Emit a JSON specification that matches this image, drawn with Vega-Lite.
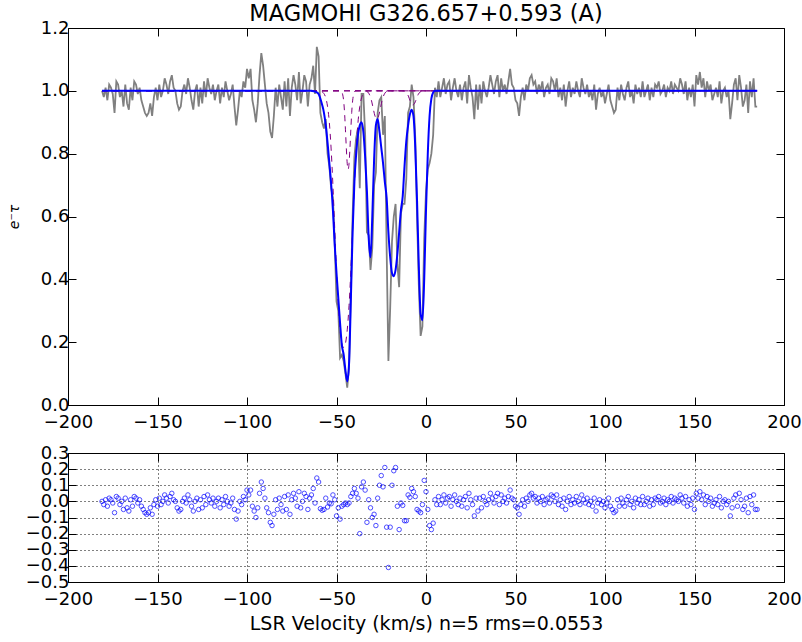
{
"$schema": "https://vega.github.io/schema/vega-lite/v6.json",
"autosize": {"type": "pad"},
"padding": {"left": 6, "top": 2, "right": 10, "bottom": 5},
"bounds": "flush",
"spacing": 48,
"background": "white",
"config": {
  "view": {"stroke": "black", "strokeWidth": 1},
  "font": "DejaVu Sans",
  "axis": {"labelFont": "DejaVu Sans", "labelFontSize": 18, "labelColor": "black", "domainColor": "black", "tickColor": "black", "tickSize": -8, "labelFlush": false, "labelOverlap": false, "titleFont": "DejaVu Sans", "titleFontWeight": "normal", "titleColor": "black"}
},
"datasets": {
"spec": [
{"v":-181,"s":1.00,"r":0.00},{"v":-180,"s":0.98,"r":-0.02},{"v":-179,"s":1.01,"r":0.01},{"v":-178,"s":0.97,"r":-0.03},{"v":-177,"s":1.02,"r":0.02},{"v":-176,"s":1.01,"r":0.01},{"v":-175,"s":0.99,"r":-0.01},{"v":-174,"s":0.93,"r":-0.07},{"v":-173,"s":1.03,"r":0.03},{"v":-172,"s":1.02,"r":0.02},
{"v":-171,"s":0.98,"r":-0.02},{"v":-170,"s":1.00,"r":0.00},{"v":-169,"s":0.95,"r":-0.05},{"v":-168,"s":1.02,"r":0.02},{"v":-167,"s":0.96,"r":-0.04},{"v":-166,"s":0.94,"r":-0.06},{"v":-165,"s":1.01,"r":0.01},{"v":-164,"s":0.97,"r":-0.03},{"v":-163,"s":1.03,"r":0.03},{"v":-162,"s":1.02,"r":0.02},
{"v":-161,"s":0.99,"r":-0.01},{"v":-160,"s":1.01,"r":0.01},{"v":-159,"s":0.97,"r":-0.03},{"v":-158,"s":0.95,"r":-0.05},{"v":-157,"s":0.93,"r":-0.07},{"v":-156,"s":0.92,"r":-0.08},{"v":-155,"s":0.93,"r":-0.07},{"v":-154,"s":0.96,"r":-0.04},{"v":-153,"s":0.92,"r":-0.08},{"v":-152,"s":0.98,"r":-0.02},
{"v":-151,"s":1.01,"r":0.01},{"v":-150,"s":0.97,"r":-0.03},{"v":-149,"s":1.02,"r":0.02},{"v":-148,"s":0.98,"r":-0.02},{"v":-147,"s":1.00,"r":0.00},{"v":-146,"s":1.04,"r":0.04},{"v":-145,"s":1.02,"r":0.02},{"v":-144,"s":0.99,"r":-0.01},{"v":-143,"s":1.03,"r":0.03},{"v":-142,"s":1.05,"r":0.05},
{"v":-141,"s":1.01,"r":0.01},{"v":-140,"s":1.00,"r":0.00},{"v":-139,"s":0.96,"r":-0.04},{"v":-138,"s":0.94,"r":-0.06},{"v":-137,"s":0.95,"r":-0.05},{"v":-136,"s":1.00,"r":0.00},{"v":-135,"s":1.02,"r":0.02},{"v":-134,"s":0.99,"r":-0.01},{"v":-133,"s":1.04,"r":0.04},{"v":-132,"s":1.01,"r":0.01},
{"v":-131,"s":0.97,"r":-0.03},{"v":-130,"s":0.94,"r":-0.06},{"v":-129,"s":1.00,"r":0.00},{"v":-128,"s":1.02,"r":0.02},{"v":-127,"s":0.95,"r":-0.05},{"v":-126,"s":1.01,"r":0.01},{"v":-125,"s":0.96,"r":-0.04},{"v":-124,"s":1.03,"r":0.03},{"v":-123,"s":0.98,"r":-0.02},{"v":-122,"s":1.04,"r":0.04},
{"v":-121,"s":1.01,"r":0.01},{"v":-120,"s":0.99,"r":-0.01},{"v":-119,"s":1.02,"r":0.02},{"v":-118,"s":0.97,"r":-0.03},{"v":-117,"s":1.00,"r":0.00},{"v":-116,"s":1.02,"r":0.02},{"v":-115,"s":0.96,"r":-0.04},{"v":-114,"s":1.01,"r":0.01},{"v":-113,"s":0.98,"r":-0.02},{"v":-112,"s":1.03,"r":0.03},
{"v":-111,"s":1.00,"r":0.00},{"v":-110,"s":0.97,"r":-0.03},{"v":-109,"s":0.99,"r":-0.01},{"v":-108,"s":1.02,"r":0.02},{"v":-107,"s":0.95,"r":-0.05},{"v":-106,"s":0.89,"r":-0.11},{"v":-105,"s":0.94,"r":-0.06},{"v":-104,"s":1.00,"r":0.00},{"v":-103,"s":0.98,"r":-0.02},{"v":-102,"s":1.03,"r":0.03},
{"v":-101,"s":1.01,"r":0.01},{"v":-100,"s":1.07,"r":0.07},{"v":-99,"s":1.04,"r":0.04},{"v":-98,"s":1.07,"r":0.07},{"v":-97,"s":0.97,"r":-0.03},{"v":-96,"s":0.94,"r":-0.06},{"v":-95,"s":0.90,"r":-0.10},{"v":-94,"s":0.96,"r":-0.04},{"v":-93,"s":1.05,"r":0.05},{"v":-92,"s":1.12,"r":0.12},
{"v":-91,"s":1.08,"r":0.08},{"v":-90,"s":1.02,"r":0.02},{"v":-89,"s":0.96,"r":-0.04},{"v":-88,"s":0.93,"r":-0.07},{"v":-87,"s":0.87,"r":-0.13},{"v":-86,"s":0.85,"r":-0.15},{"v":-85,"s":0.92,"r":-0.08},{"v":-84,"s":1.01,"r":0.01},{"v":-83,"s":0.95,"r":-0.05},{"v":-82,"s":1.02,"r":0.02},
{"v":-81,"s":0.98,"r":-0.02},{"v":-80,"s":0.94,"r":-0.06},{"v":-79,"s":1.03,"r":0.03},{"v":-78,"s":0.95,"r":-0.05},{"v":-77,"s":1.04,"r":0.04},{"v":-76,"s":0.92,"r":-0.08},{"v":-75,"s":1.01,"r":0.01},{"v":-74,"s":1.05,"r":0.05},{"v":-73,"s":1.02,"r":0.02},{"v":-72,"s":0.97,"r":-0.03},
{"v":-71,"s":1.06,"r":0.06},{"v":-70,"s":0.96,"r":-0.04},{"v":-69,"s":1.00,"r":0.00},{"v":-68,"s":1.05,"r":0.05},{"v":-67,"s":1.03,"r":0.03},{"v":-66,"s":0.95,"r":-0.05},{"v":-65,"s":1.02,"r":0.02},
{"v":-64,"s":1.04,"r":0.04},{"v":-63,"s":1.08,"r":0.08},{"v":-62,"s":0.99,"r":-0.01},{"v":-61,"s":1.14,"r":0.145},{"v":-60,"s":1.11,"r":0.12},{"v":-59,"s":0.93,"r":-0.045},{"v":-58,"s":0.90,"r":-0.055},{"v":-57,"s":0.88,"r":-0.05},{"v":-56,"s":0.91,"r":0.02},{"v":-55,"s":0.80,"r":-0.035},
{"v":-54,"s":0.76,"r":-0.01},{"v":-53,"s":0.69,"r":-0.015},{"v":-52,"s":0.66,"r":0.04},{"v":-51,"s":0.52,"r":0.01},{"v":-50,"s":0.33,"r":-0.09},{"v":-49,"s":0.30,"r":-0.04},{"v":-48,"s":0.15,"r":-0.11},{"v":-47,"s":0.16,"r":-0.03},{"v":-46,"s":0.14,"r":-0.02},{"v":-45,"s":0.10,"r":-0.01},
{"v":-44,"s":0.055,"r":-0.02},{"v":-43,"s":0.12,"r":-0.01},{"v":-42,"s":0.36,"r":0.03},{"v":-41,"s":0.60,"r":0.05},{"v":-40,"s":0.79,"r":0.08},{"v":-39,"s":0.85,"r":0.05},{"v":-38,"s":0.88,"r":0.02},{"v":-37,"s":0.69,"r":-0.20},{"v":-36,"s":0.99,"r":0.09},{"v":-35,"s":0.99,"r":0.12},
{"v":-34,"s":0.86,"r":0.07},{"v":-33,"s":0.55,"r":-0.13},{"v":-32,"s":0.54,"r":0.01},{"v":-31,"s":0.43,"r":-0.04},{"v":-30,"s":0.50,"r":-0.10},{"v":-29,"s":0.70,"r":-0.08},{"v":-28,"s":0.74,"r":-0.15},{"v":-27,"s":0.93,"r":0.02},{"v":-26,"s":0.97,"r":0.10},{"v":-25,"s":0.98,"r":0.16},
{"v":-24,"s":0.86,"r":0.09},{"v":-23,"s":0.92,"r":0.21},{"v":-22,"s":0.50,"r":-0.16},{"v":-21,"s":0.14,"r":-0.41},{"v":-20,"s":0.31,"r":-0.16},{"v":-19,"s":0.52,"r":0.10},{"v":-18,"s":0.60,"r":0.19},{"v":-17,"s":0.64,"r":0.21},{"v":-16,"s":0.45,"r":-0.03},{"v":-15,"s":0.375,"r":-0.175},
{"v":-14,"s":0.61,"r":-0.01},{"v":-13,"s":0.64,"r":-0.025},{"v":-12,"s":0.64,"r":-0.12},{"v":-11,"s":0.72,"r":-0.12},{"v":-10,"s":0.93,"r":0.04},{"v":-9,"s":0.95,"r":0.025},{"v":-8,"s":1.02,"r":0.08},{"v":-7,"s":0.98,"r":0.06},{"v":-6,"s":0.85,"r":0.03},{"v":-5,"s":0.60,"r":-0.05},
{"v":-4,"s":0.38,"r":-0.06},{"v":-3,"s":0.22,"r":-0.07},{"v":-2,"s":0.25,"r":-0.02},{"v":-1,"s":0.53,"r":0.13},{"v":0,"s":0.68,"r":0.06},{"v":1,"s":0.75,"r":-0.05},{"v":2,"s":0.77,"r":-0.15},{"v":3,"s":0.80,"r":-0.175},{"v":4,"s":0.86,"r":-0.135},{"v":5,"s":1.01,"r":0.01},
{"v":6,"s":0.98,"r":-0.02},{"v":7,"s":1.03,"r":0.03},{"v":8,"s":0.98,"r":-0.02},{"v":9,"s":1.01,"r":0.01},{"v":10,"s":1.04,"r":0.04},{"v":11,"s":0.99,"r":-0.01},{"v":12,"s":1.02,"r":0.02},{"v":13,"s":1.03,"r":0.03},{"v":14,"s":0.97,"r":-0.03},{"v":15,"s":1.01,"r":0.01},
{"v":16,"s":1.04,"r":0.04},{"v":17,"s":1.00,"r":0.00},{"v":18,"s":0.98,"r":-0.02},{"v":19,"s":1.02,"r":0.02},{"v":20,"s":0.97,"r":-0.03},{"v":21,"s":1.01,"r":0.01},{"v":22,"s":1.03,"r":0.03},{"v":23,"s":0.96,"r":-0.04},{"v":24,"s":1.05,"r":0.05},{"v":25,"s":1.01,"r":0.01},
{"v":26,"s":0.98,"r":-0.02},{"v":27,"s":0.91,"r":-0.09},{"v":28,"s":1.02,"r":0.02},{"v":29,"s":0.94,"r":-0.06},{"v":30,"s":1.02,"r":0.02},{"v":31,"s":0.96,"r":-0.04},{"v":32,"s":1.03,"r":0.03},{"v":33,"s":1.00,"r":0.00},{"v":34,"s":0.98,"r":-0.02},{"v":35,"s":1.01,"r":0.01},
{"v":36,"s":1.05,"r":0.05},{"v":37,"s":1.02,"r":0.02},{"v":38,"s":0.99,"r":-0.01},{"v":39,"s":1.03,"r":0.03},{"v":40,"s":1.05,"r":0.05},{"v":41,"s":0.98,"r":-0.02},{"v":42,"s":1.04,"r":0.04},{"v":43,"s":1.00,"r":0.00},{"v":44,"s":1.02,"r":0.02},{"v":45,"s":0.99,"r":-0.01},
{"v":46,"s":1.03,"r":0.03},{"v":47,"s":1.07,"r":0.07},{"v":48,"s":1.02,"r":0.02},{"v":49,"s":1.01,"r":0.01},{"v":50,"s":0.97,"r":-0.03},{"v":51,"s":0.96,"r":-0.04},{"v":52,"s":0.92,"r":-0.08},{"v":53,"s":0.98,"r":-0.02},{"v":54,"s":1.01,"r":0.01},{"v":55,"s":0.97,"r":-0.03},
{"v":56,"s":1.02,"r":0.02},{"v":57,"s":1.00,"r":0.00},{"v":58,"s":1.04,"r":0.04},{"v":59,"s":1.05,"r":0.05},{"v":60,"s":1.02,"r":0.02},{"v":61,"s":1.03,"r":0.03},{"v":62,"s":0.99,"r":-0.01},{"v":63,"s":1.02,"r":0.02},{"v":64,"s":1.00,"r":0.00},{"v":65,"s":1.03,"r":0.03},
{"v":66,"s":0.98,"r":-0.02},{"v":67,"s":1.01,"r":0.01},{"v":68,"s":1.02,"r":0.02},{"v":69,"s":0.99,"r":-0.01},{"v":70,"s":1.04,"r":0.04},{"v":71,"s":1.03,"r":0.03},{"v":72,"s":1.00,"r":0.00},{"v":73,"s":1.04,"r":0.04},{"v":74,"s":0.98,"r":-0.02},{"v":75,"s":1.01,"r":0.01},
{"v":76,"s":0.97,"r":-0.03},{"v":77,"s":1.02,"r":0.02},{"v":78,"s":0.95,"r":-0.05},{"v":79,"s":1.00,"r":0.00},{"v":80,"s":1.03,"r":0.03},{"v":81,"s":0.98,"r":-0.02},{"v":82,"s":1.01,"r":0.01},{"v":83,"s":0.99,"r":-0.01},{"v":84,"s":1.03,"r":0.03},{"v":85,"s":1.00,"r":0.00},
{"v":86,"s":0.98,"r":-0.02},{"v":87,"s":1.04,"r":0.04},{"v":88,"s":1.01,"r":0.01},{"v":89,"s":0.99,"r":-0.01},{"v":90,"s":1.02,"r":0.02},{"v":91,"s":0.98,"r":-0.02},{"v":92,"s":1.00,"r":0.00},{"v":93,"s":0.97,"r":-0.03},{"v":94,"s":1.02,"r":0.02},{"v":95,"s":0.94,"r":-0.06},
{"v":96,"s":0.99,"r":-0.01},{"v":97,"s":1.01,"r":0.01},{"v":98,"s":0.98,"r":-0.02},{"v":99,"s":1.00,"r":0.00},{"v":100,"s":0.96,"r":-0.04},{"v":101,"s":0.99,"r":-0.01},{"v":102,"s":1.02,"r":0.02},{"v":103,"s":0.97,"r":-0.03},{"v":104,"s":0.95,"r":-0.05},{"v":105,"s":0.93,"r":-0.07},
{"v":106,"s":0.94,"r":-0.06},{"v":107,"s":1.01,"r":0.01},{"v":108,"s":0.97,"r":-0.03},{"v":109,"s":1.02,"r":0.02},{"v":110,"s":0.99,"r":-0.01},{"v":111,"s":0.97,"r":-0.03},{"v":112,"s":1.01,"r":0.01},{"v":113,"s":1.03,"r":0.03},{"v":114,"s":0.98,"r":-0.02},{"v":115,"s":1.00,"r":0.00},
{"v":116,"s":0.96,"r":-0.04},{"v":117,"s":1.02,"r":0.02},{"v":118,"s":0.99,"r":-0.01},{"v":119,"s":1.01,"r":0.01},{"v":120,"s":0.98,"r":-0.02},{"v":121,"s":1.03,"r":0.03},{"v":122,"s":0.98,"r":-0.02},{"v":123,"s":1.00,"r":0.00},{"v":124,"s":1.02,"r":0.02},{"v":125,"s":0.97,"r":-0.03},
{"v":126,"s":1.01,"r":0.01},{"v":127,"s":0.98,"r":-0.02},{"v":128,"s":1.02,"r":0.02},{"v":129,"s":1.01,"r":0.01},{"v":130,"s":1.03,"r":0.03},{"v":131,"s":0.99,"r":-0.01},{"v":132,"s":1.00,"r":0.00},{"v":133,"s":1.02,"r":0.02},{"v":134,"s":0.98,"r":-0.02},{"v":135,"s":1.01,"r":0.01},
{"v":136,"s":1.00,"r":0.00},{"v":137,"s":1.03,"r":0.03},{"v":138,"s":0.99,"r":-0.01},{"v":139,"s":1.02,"r":0.02},{"v":140,"s":1.01,"r":0.01},{"v":141,"s":1.00,"r":0.00},{"v":142,"s":1.04,"r":0.04},{"v":143,"s":1.02,"r":0.02},{"v":144,"s":0.99,"r":-0.01},{"v":145,"s":1.03,"r":0.03},
{"v":146,"s":0.97,"r":-0.03},{"v":147,"s":1.01,"r":0.01},{"v":148,"s":0.98,"r":-0.02},{"v":149,"s":1.02,"r":0.02},{"v":150,"s":0.95,"r":-0.05},{"v":151,"s":1.05,"r":0.05},{"v":152,"s":1.02,"r":0.02},{"v":153,"s":1.06,"r":0.06},{"v":154,"s":1.01,"r":0.01},{"v":155,"s":1.04,"r":0.04},
{"v":156,"s":0.98,"r":-0.02},{"v":157,"s":1.03,"r":0.03},{"v":158,"s":1.00,"r":0.00},{"v":159,"s":1.02,"r":0.02},{"v":160,"s":0.97,"r":-0.03},{"v":161,"s":0.99,"r":-0.01},{"v":162,"s":1.01,"r":0.01},{"v":163,"s":0.98,"r":-0.02},{"v":164,"s":1.03,"r":0.03},{"v":165,"s":0.96,"r":-0.04},
{"v":166,"s":1.00,"r":0.00},{"v":167,"s":1.01,"r":0.01},{"v":168,"s":0.98,"r":-0.02},{"v":169,"s":1.00,"r":0.00},{"v":170,"s":0.91,"r":-0.09},{"v":171,"s":0.96,"r":-0.04},{"v":172,"s":1.02,"r":0.02},{"v":173,"s":1.04,"r":0.04},{"v":174,"s":0.97,"r":-0.03},{"v":175,"s":1.05,"r":0.05},
{"v":176,"s":1.01,"r":0.01},{"v":177,"s":0.95,"r":-0.05},{"v":178,"s":0.97,"r":-0.03},{"v":179,"s":1.02,"r":0.02},{"v":180,"s":0.93,"r":-0.07},{"v":181,"s":1.03,"r":0.03},{"v":182,"s":0.98,"r":-0.02},{"v":183,"s":1.04,"r":0.04},{"v":184,"s":0.95,"r":-0.05},{"v":185,"s":0.95,"r":-0.05}
],
"model": [
{"v":-181,"m":1},{"v":-65,"m":1},{"v":-64,"m":1},{"v":-63,"m":0.999},{"v":-62,"m":0.998},{"v":-61,"m":0.995},{"v":-60,"m":0.99},{"v":-59,"m":0.975},{"v":-58,"m":0.955},{"v":-57,"m":0.93},
{"v":-56,"m":0.89},{"v":-55,"m":0.835},{"v":-54,"m":0.77},{"v":-53,"m":0.705},{"v":-52,"m":0.62},{"v":-51,"m":0.51},{"v":-50,"m":0.42},{"v":-49,"m":0.34},{"v":-48,"m":0.26},{"v":-47,"m":0.19},
{"v":-46,"m":0.16},{"v":-45,"m":0.11},{"v":-44,"m":0.075},{"v":-43,"m":0.13},{"v":-42,"m":0.33},{"v":-41,"m":0.55},{"v":-40,"m":0.71},{"v":-39,"m":0.80},{"v":-38,"m":0.86},{"v":-37,"m":0.89},
{"v":-36,"m":0.90},{"v":-35,"m":0.87},{"v":-34,"m":0.79},{"v":-33,"m":0.68},{"v":-32,"m":0.53},{"v":-31,"m":0.47},{"v":-30,"m":0.60},{"v":-29,"m":0.78},{"v":-28,"m":0.89},{"v":-27,"m":0.91},
{"v":-26,"m":0.87},{"v":-25,"m":0.82},{"v":-24,"m":0.77},{"v":-23,"m":0.71},{"v":-22,"m":0.66},{"v":-21,"m":0.55},{"v":-20,"m":0.47},{"v":-19,"m":0.42},{"v":-18,"m":0.41},{"v":-17,"m":0.43},
{"v":-16,"m":0.48},{"v":-15,"m":0.55},{"v":-14,"m":0.62},{"v":-13,"m":0.665},{"v":-12,"m":0.76},{"v":-11,"m":0.84},{"v":-10,"m":0.89},{"v":-9,"m":0.925},{"v":-8,"m":0.94},{"v":-7,"m":0.92},
{"v":-6,"m":0.82},{"v":-5,"m":0.65},{"v":-4,"m":0.44},{"v":-3,"m":0.29},{"v":-2,"m":0.27},{"v":-1,"m":0.40},{"v":0,"m":0.62},{"v":1,"m":0.80},{"v":2,"m":0.92},{"v":3,"m":0.975},
{"v":4,"m":0.995},{"v":5,"m":1},{"v":6,"m":1},{"v":185,"m":1}
],
"comp": [
{"c":"P1","v":-181,"y":1},{"c":"P1","v":-59,"y":1},{"c":"P1","v":-58,"y":0.997},{"c":"P1","v":-57,"y":0.991},{"c":"P1","v":-56,"y":0.978},{"c":"P1","v":-55,"y":0.950},{"c":"P1","v":-54,"y":0.899},{"c":"P1","v":-53,"y":0.815},{"c":"P1","v":-52,"y":0.699},{"c":"P1","v":-51,"y":0.562},
{"c":"P1","v":-50,"y":0.427},{"c":"P1","v":-49,"y":0.316},{"c":"P1","v":-48,"y":0.239},{"c":"P1","v":-47,"y":0.196},{"c":"P1","v":-46,"y":0.183},{"c":"P1","v":-45,"y":0.196},{"c":"P1","v":-44,"y":0.239},{"c":"P1","v":-43,"y":0.316},{"c":"P1","v":-42,"y":0.427},{"c":"P1","v":-41,"y":0.562},
{"c":"P1","v":-40,"y":0.699},{"c":"P1","v":-39,"y":0.815},{"c":"P1","v":-38,"y":0.899},{"c":"P1","v":-37,"y":0.950},{"c":"P1","v":-36,"y":0.978},{"c":"P1","v":-35,"y":0.991},{"c":"P1","v":-34,"y":0.997},{"c":"P1","v":-33,"y":1},{"c":"P1","v":185,"y":1},
{"c":"P2","v":-181,"y":1},{"c":"P2","v":-47.5,"y":1},{"c":"P2","v":-47,"y":0.996},{"c":"P2","v":-46.5,"y":0.987},{"c":"P2","v":-46,"y":0.968},{"c":"P2","v":-45.5,"y":0.931},{"c":"P2","v":-45,"y":0.876},{"c":"P2","v":-44.5,"y":0.816},{"c":"P2","v":-44,"y":0.768},{"c":"P2","v":-43.5,"y":0.75},
{"c":"P2","v":-43,"y":0.768},{"c":"P2","v":-42.5,"y":0.816},{"c":"P2","v":-42,"y":0.876},{"c":"P2","v":-41.5,"y":0.931},{"c":"P2","v":-41,"y":0.968},{"c":"P2","v":-40.5,"y":0.987},{"c":"P2","v":-40,"y":0.996},{"c":"P2","v":-39.5,"y":1},{"c":"P2","v":185,"y":1},
{"c":"P3","v":-181,"y":1},{"c":"P3","v":-33.5,"y":1},{"c":"P3","v":-32.5,"y":0.996},{"c":"P3","v":-31.5,"y":0.987},{"c":"P3","v":-30.5,"y":0.970},{"c":"P3","v":-29.5,"y":0.944},{"c":"P3","v":-28.5,"y":0.920},{"c":"P3","v":-27.5,"y":0.91},{"c":"P3","v":-26.5,"y":0.920},{"c":"P3","v":-25.5,"y":0.944},
{"c":"P3","v":-24.5,"y":0.970},{"c":"P3","v":-23.5,"y":0.987},{"c":"P3","v":-22.5,"y":0.996},{"c":"P3","v":-21.5,"y":1},{"c":"P3","v":185,"y":1},
{"c":"P4","v":-181,"y":1},{"c":"P4","v":-12.3,"y":1},{"c":"P4","v":-11.3,"y":0.996},{"c":"P4","v":-10.3,"y":0.989},{"c":"P4","v":-9.3,"y":0.975},{"c":"P4","v":-8.3,"y":0.961},{"c":"P4","v":-7.3,"y":0.955},{"c":"P4","v":-6.3,"y":0.961},{"c":"P4","v":-5.3,"y":0.975},{"c":"P4","v":-4.3,"y":0.989},
{"c":"P4","v":-3.3,"y":0.996},{"c":"P4","v":-2.3,"y":1},{"c":"P4","v":185,"y":1}
]
},
"vconcat": [
{
  "width": 716, "height": 377,
  "title": {"text": "MAGMOHI G326.657+0.593 (A)", "fontSize": 22.5, "fontWeight": "normal", "font": "DejaVu Sans", "color": "black", "offset": -6},
  "layer": [
    {
      "data": {"name": "spec"},
      "mark": {"type": "line", "color": "#808080", "strokeWidth": 1.8},
      "encoding": {
        "x": {"field": "v", "type": "quantitative", "scale": {"domain": [-200, 200], "nice": false, "zero": false},
              "axis": {"orient": "bottom", "values": [-200,-150,-100,-50,0,50,100,150,200], "title": null, "grid": false, "labelPadding": 16}},
        "y": {"field": "s", "type": "quantitative", "scale": {"domain": [0, 1.2], "nice": false},
              "axis": {"orient": "left", "values": [0,0.2,0.4,0.6,0.8,1.0,1.2], "format": ".1f", "grid": false, "labelPadding": 7,
                       "title": "e⁻τ", "titleFontSize": 14, "titleFontStyle": "italic", "titlePadding": 19}}
      }
    },
    {
      "data": {"name": "comp"},
      "mark": {"type": "line", "color": "#800080", "strokeWidth": 1, "strokeDash": [6, 5], "interpolate": "monotone"},
      "encoding": {
        "x": {"field": "v", "type": "quantitative",
              "axis": {"orient": "top", "values": [-200,-150,-100,-50,0,50,100,150,200], "labels": false, "title": null, "grid": false, "domain": false}},
        "y": {"field": "y", "type": "quantitative",
              "axis": {"orient": "right", "values": [0,0.2,0.4,0.6,0.8,1.0,1.2], "labels": false, "title": null, "grid": false, "domain": false}},
        "detail": {"field": "c", "type": "nominal"}
      }
    },
    {
      "data": {"name": "model"},
      "mark": {"type": "line", "color": "#0000ff", "strokeWidth": 2, "interpolate": "monotone"},
      "encoding": {
        "x": {"field": "v", "type": "quantitative", "axis": null},
        "y": {"field": "m", "type": "quantitative", "axis": null}
      }
    }
  ],
  "resolve": {"axis": {"x": "independent", "y": "independent"}}
},
{
  "width": 716, "height": 129,
  "layer": [
    {
      "data": {"name": "spec"},
      "mark": {"type": "point", "filled": false, "color": "#0000ff", "size": 20, "strokeWidth": 1},
      "encoding": {
        "x": {"field": "v", "type": "quantitative", "scale": {"domain": [-200, 200], "nice": false, "zero": false},
              "axis": {"orient": "bottom", "values": [-200,-150,-100,-50,0,50,100,150,200], "grid": true, "gridColor": "black", "gridDash": [1, 3], "gridOpacity": 1, "labelPadding": 16,
                       "title": "LSR Velocity (km/s) n=5 rms=0.0553", "titleFontSize": 19, "titlePadding": 6}},
        "y": {"field": "r", "type": "quantitative", "scale": {"domain": [-0.5, 0.3], "nice": false, "zero": false},
              "axis": {"orient": "left", "values": [-0.5,-0.4,-0.3,-0.2,-0.1,0,0.1,0.2,0.3], "format": ".1f", "grid": true, "gridColor": "black", "gridDash": [1, 3], "gridOpacity": 1, "labelPadding": 7, "title": null}}
      }
    },
    {
      "data": {"name": "spec"},
      "mark": {"type": "point", "opacity": 0},
      "encoding": {
        "x": {"field": "v", "type": "quantitative",
              "axis": {"orient": "top", "values": [-200,-150,-100,-50,0,50,100,150,200], "labels": false, "title": null, "grid": false, "domain": false}},
        "y": {"field": "r", "type": "quantitative",
              "axis": {"orient": "right", "values": [-0.5,-0.4,-0.3,-0.2,-0.1,0,0.1,0.2,0.3], "labels": false, "title": null, "grid": false, "domain": false}}
      }
    }
  ],
  "resolve": {"axis": {"x": "independent", "y": "independent"}}
}
]
}
